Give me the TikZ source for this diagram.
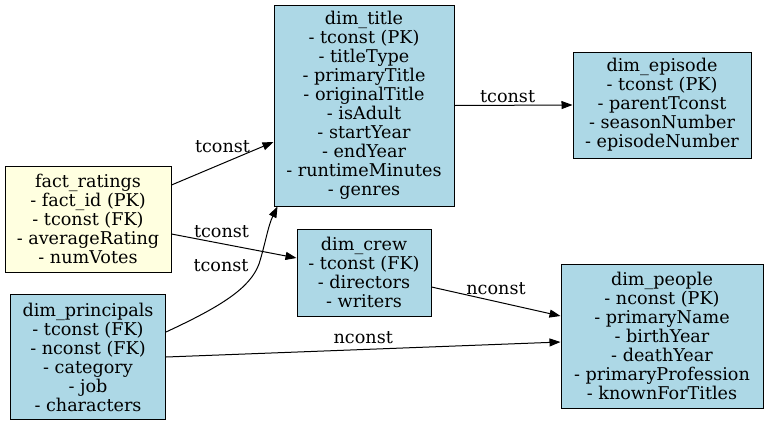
\documentclass[tikz,border=0pt]{standalone}
\usepackage{fontspec}
\setmainfont{DejaVu Serif}
\usetikzlibrary{arrows.meta}
\definecolor{tblblue}{HTML}{ADD8E6}
\definecolor{tblyellow}{HTML}{FFFFE0}
\begin{document}
\begin{tikzpicture}
            [
                x = 1pt, y = -1pt,
                every node/.style = {font=\fontsize{17.6}{19}\selectfont},
                table/.style = {shape=rectangle, draw, line width=1pt, align=center,
                fill=tblblue, inner sep=0pt},
                link/.style = {-{Triangle[length=11pt,width=8pt]}, line width=1pt},
                lbl/.style = {inner sep=1pt}
            ]
            \useasboundingbox (0,0) rectangle (768,426);
            \node [table, fill=tblyellow, minimum width=166pt, minimum height=106pt]
                (fact) at (88,219) {fact\_ratings \\ - fact\_id (PK) \\ - tconst (FK) \\
                - averageRating \\ - numVotes};
            \node [table, minimum width=155pt, minimum height=125pt]
                (principals) at (88,357) {dim\_principals \\ - tconst (FK) \\ - nconst (FK) \\
                - category \\ - job \\ - characters};
            \node [table, minimum width=180pt, minimum height=201pt]
                (title) at (364,105.5) {dim\_title \\ - tconst (PK) \\ - titleType \\
                - primaryTitle \\ - originalTitle \\ - isAdult \\ - startYear \\
                - endYear \\ - runtimeMinutes \\ - genres};
            \node [table, minimum width=178pt, minimum height=106pt]
                (episode) at (662,105) {dim\_episode \\ - tconst (PK) \\ - parentTconst \\
                - seasonNumber \\ - episodeNumber};
            \node [table, minimum width=134pt, minimum height=87pt]
                (crew) at (364,272.5) {dim\_crew \\ - tconst (FK) \\ - directors \\ - writers};
            \node [table, minimum width=202pt, minimum height=144pt]
                (people) at (662,336) {dim\_people \\ - nconst (PK) \\ - primaryName \\
                - birthYear \\ - deathYear \\ - primaryProfession \\ - knownForTitles};
            % connectors
            \draw [link] ([yshift=34pt]fact.east) -- ([yshift=-36.5pt]title.west)
                node [lbl, pos=0.5, above=9pt] {tconst};
            \draw [link] ([yshift=-15pt]fact.east) -- ([yshift=14.5pt]crew.west)
                node [lbl, pos=0.4, above=4pt] {tconst};
            \draw [link] ([yshift=25pt]principals.east) .. controls (222,306) and (250,288) ..
                (259,264) node [lbl, pos=1, left=9pt, yshift=-2pt] {tconst}
                .. controls (265,245) and (268,226) .. ([xshift=4pt]title.south west);
            \draw [link] (principals.east) -- ([yshift=-6pt]people.west)
                node [lbl, pos=0.5, above=4pt] {nconst};
            \draw [link] (title.east) -- (episode.west)
                node [lbl, pos=0.45, above=1pt] {tconst};
            \draw [link] ([yshift=-14.5pt]crew.east) -- ([yshift=20pt]people.west)
                node [lbl, pos=0.5, above=5pt] {nconst};
\end{tikzpicture}
\end{document}
